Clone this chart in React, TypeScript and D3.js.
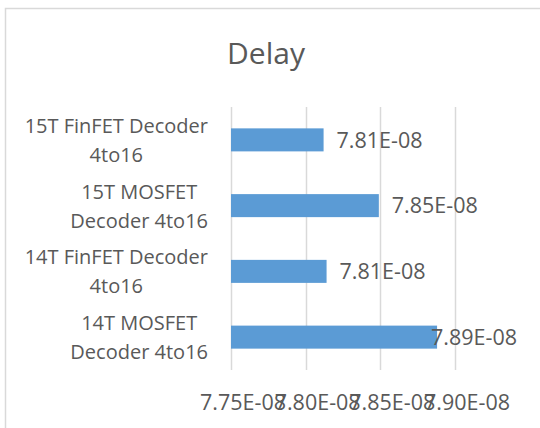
import React, { useEffect, useRef } from "react";
import * as d3 from "d3";

const categories = [
  "15T FinFET Decoder 4to16",
  "15T MOSFET Decoder 4to16",
  "14T FinFET Decoder 4to16",
  "14T MOSFET Decoder 4to16",
];
const categoryLines = [
  ["15T FinFET Decoder", "4to16"],
  ["15T MOSFET", "Decoder 4to16"],
  ["14T FinFET Decoder", "4to16"],
  ["14T MOSFET", "Decoder 4to16"],
];
const delays = [7.812e-8, 7.849e-8, 7.814e-8, 7.888e-8];
const ticks = [7.75e-8, 7.8e-8, 7.85e-8, 7.9e-8];
const title = "Delay";

const W = 540;
const H = 428;
const FONT = "'Open Sans', sans-serif";
const TEXT = "#595959";
const GRID = "#D9D9D9";
const BAR = "#5B9BD5";

const fmt = (v: number) => {
  const s = v.toExponential(2).toUpperCase(); // 7.81E-8
  return s.replace(/E([+-])(\d)$/, "E$10$2");
};

export default function App() {
  const ref = useRef<SVGSVGElement>(null);

  useEffect(() => {
    const svg = d3.select(ref.current);
    svg.selectAll("*").remove();

    const left = 231, right = 455, top = 107, bottom = 370;
    const x = d3.scaleLinear().domain([ticks[0], ticks[ticks.length - 1]]).range([left, right]);
    const y = d3.scaleBand<string>().domain(categories).range([top, bottom]).paddingInner(0.65).paddingOuter(0.325);

    // chart border
    svg.append("rect")
      .attr("x", 5.5).attr("y", 8.5).attr("width", 600).attr("height", 500)
      .attr("fill", "#fff").attr("stroke", GRID).attr("stroke-width", 1.5);

    // title
    svg.append("text")
      .attr("x", 266).attr("y", 64).attr("text-anchor", "middle")
      .attr("font-family", FONT).attr("font-size", 30).attr("fill", TEXT)
      .text(title);

    // gridlines
    svg.append("g").selectAll("line").data(ticks).join("line")
      .attr("x1", (d) => Math.round(x(d)) + 0.5).attr("x2", (d) => Math.round(x(d)) + 0.5)
      .attr("y1", top).attr("y2", bottom)
      .attr("stroke", GRID).attr("stroke-width", 1.5);

    // tick labels
    svg.append("g").selectAll("text").data(ticks).join("text")
      .attr("x", (d) => x(d) + 12).attr("y", 410).attr("text-anchor", "middle")
      .attr("font-family", FONT).attr("font-size", 21.5).attr("fill", TEXT)
      .text((d) => fmt(d));

    // bars
    svg.append("g").selectAll("rect").data(categories).join("rect")
      .attr("x", x(ticks[0]))
      .attr("y", (d) => y(d)!)
      .attr("width", (d, i) => x(delays[i]) - x(ticks[0]))
      .attr("height", y.bandwidth())
      .attr("fill", BAR);

    // data labels (kept inside the chart area, like the original)
    const maxRight = 517;
    svg.append("g").selectAll("text").data(categories).join("text")
      .attr("y", (d) => y(d)! + y.bandwidth() / 2)
      .attr("dy", "0.36em")
      .attr("font-family", FONT).attr("font-size", 21.5).attr("fill", TEXT)
      .text((d, i) => fmt(delays[i]))
      .attr("x", function (d, i) {
        const w = (this as SVGTextElement).getComputedTextLength();
        return Math.min(x(delays[i]) + 13, maxRight - w);
      });

    // category labels
    const labelRight = 208;
    const lineH = 29;
    categories.forEach((c, i) => {
      const lines = categoryLines[i];
      const g = svg.append("g");
      const cy = y(c)! + y.bandwidth() / 2;
      const texts = g.selectAll("text").data(lines).join("text")
        .attr("y", (d, j) => cy + 7.5 + (j - (lines.length - 1) / 2) * lineH)
        .attr("text-anchor", "middle")
        .attr("font-family", FONT).attr("font-size", 20).attr("fill", TEXT)
        .text((d) => d);
      let maxW = 0;
      texts.each(function () {
        maxW = Math.max(maxW, (this as SVGTextElement).getComputedTextLength());
      });
      texts.attr("x", labelRight - maxW / 2);
    });
  }, []);

  return (
    <svg
      ref={ref}
      width={W}
      height={H}
      style={{ position: "absolute", left: 0, top: 0, background: "#fff" }}
    />
  );
}
